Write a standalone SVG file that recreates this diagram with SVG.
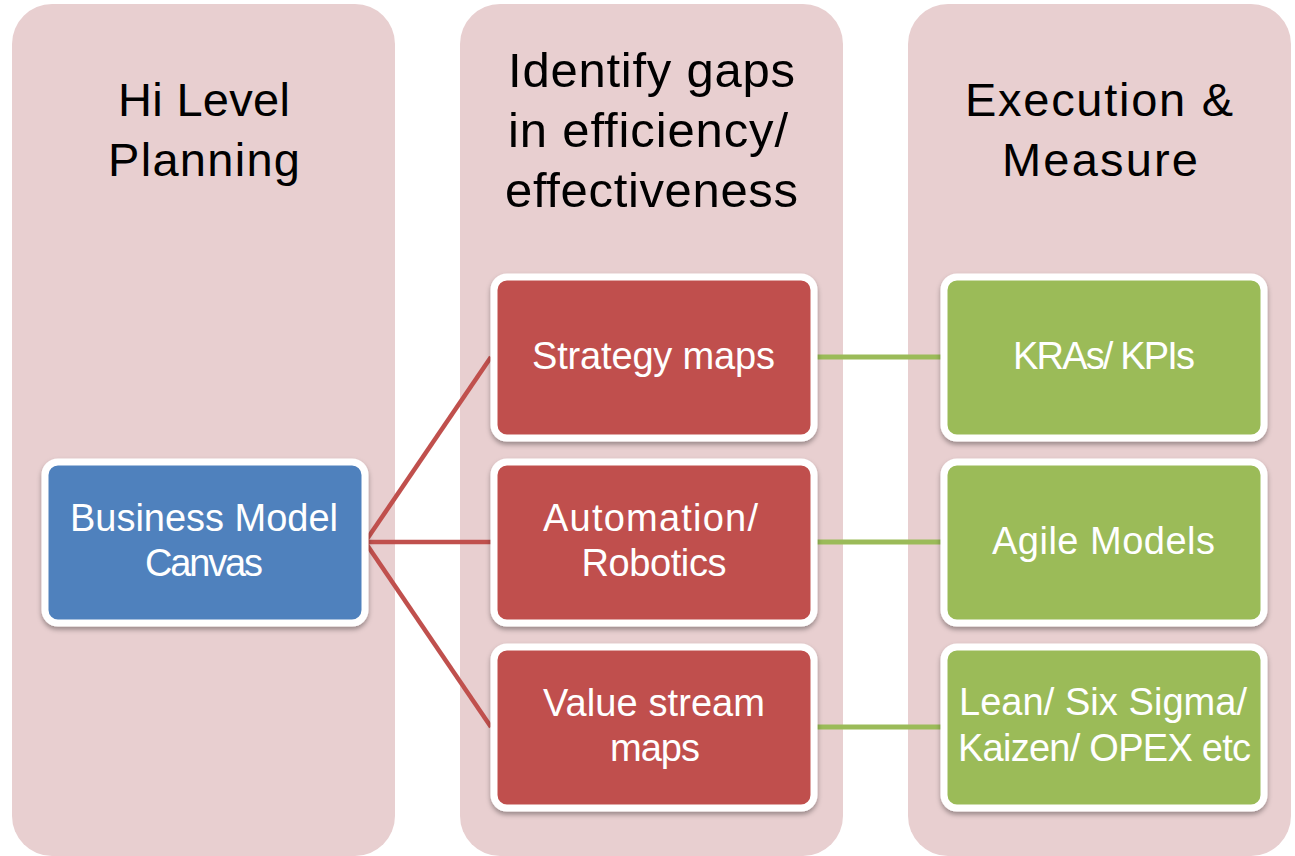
<svg xmlns="http://www.w3.org/2000/svg" width="1295" height="856" viewBox="0 0 1295 856">
<style>
.col{fill:#e8cfd0}
.hdr{font-family:"Liberation Sans",Arial,sans-serif;font-size:47px;fill:#000;text-anchor:middle}
.hdr2{font-size:49px}
.lbl{font-family:"Liberation Sans",Arial,sans-serif;font-size:38px;fill:#fff;text-anchor:middle}
.node{stroke:#fff;stroke-width:7}
.blue{fill:#4f81bd}
.red{fill:#c0504d}
.green{fill:#9bbb59}
.cr{stroke:#c0504d;stroke-width:4.5;fill:none}
.cg{stroke:#9bbb59;stroke-width:5;fill:none}
</style>
<defs>
<filter id="sh" x="-10%" y="-10%" width="120%" height="130%">
<feDropShadow dx="0" dy="3" stdDeviation="2.5" flood-color="#000" flood-opacity="0.35"/>
</filter>
</defs>
<rect width="1295" height="856" fill="#fff"/>
<g id="col1">
<rect class="col" x="12" y="4" width="383" height="852" rx="40"/>
<text class="hdr" x="204" y="116" textLength="172">Hi Level</text>
<text class="hdr" x="204" y="176" textLength="192">Planning</text>
</g>
<g id="col2">
<rect class="col" x="460" y="4" width="383" height="852" rx="40"/>
<text class="hdr hdr2" x="651.5" y="87" textLength="287">Identify gaps</text>
<text class="hdr hdr2" x="648" y="147" textLength="280">in efficiency/</text>
<text class="hdr hdr2" x="651.5" y="207" textLength="293">effectiveness</text>
</g>
<g id="col3">
<rect class="col" x="908" y="4" width="383" height="852" rx="40"/>
<text class="hdr" x="1099" y="116" textLength="268">Execution &amp;</text>
<text class="hdr" x="1100" y="176" textLength="196">Measure</text>
</g>
<g id="connectors">
<line class="cr" x1="365" y1="542" x2="491" y2="357"/>
<line class="cr" x1="365" y1="542" x2="491" y2="542"/>
<line class="cr" x1="365" y1="542" x2="491" y2="727"/>
<line class="cg" x1="817" y1="357" x2="941" y2="357"/>
<line class="cg" x1="817" y1="542" x2="941" y2="542"/>
<line class="cg" x1="817" y1="727" x2="941" y2="727"/>
</g>
<g id="bmc">
<rect class="node blue" filter="url(#sh)" x="45" y="462" width="320" height="161" rx="13"/>
<text class="lbl" x="204" y="531" textLength="268">Business Model</text>
<text class="lbl" x="204" y="576" textLength="118">Canvas</text>
</g>
<g id="strategy">
<rect class="node red" filter="url(#sh)" x="494" y="277" width="320" height="161" rx="13"/>
<text class="lbl" x="653.5" y="369" textLength="243">Strategy maps</text>
</g>
<g id="automation">
<rect class="node red" filter="url(#sh)" x="494" y="462" width="320" height="161" rx="13"/>
<text class="lbl" x="650.5" y="531" textLength="215">Automation/</text>
<text class="lbl" x="654" y="576" textLength="145">Robotics</text>
</g>
<g id="valuestream">
<rect class="node red" filter="url(#sh)" x="494" y="647" width="320" height="161" rx="13"/>
<text class="lbl" x="654" y="716" textLength="222">Value stream</text>
<text class="lbl" x="655" y="761" textLength="90">maps</text>
</g>
<g id="kras">
<rect class="node green" filter="url(#sh)" x="944" y="277" width="320" height="161" rx="13"/>
<text class="lbl" x="1104" y="369" textLength="182">KRAs/ KPIs</text>
</g>
<g id="agile">
<rect class="node green" filter="url(#sh)" x="944" y="462" width="320" height="161" rx="13"/>
<text class="lbl" x="1103.5" y="554" textLength="223">Agile Models</text>
</g>
<g id="lean">
<rect class="node green" filter="url(#sh)" x="944" y="647" width="320" height="161" rx="13"/>
<text class="lbl" x="1103" y="715" textLength="288">Lean/ Six Sigma/</text>
<text class="lbl" x="1104.5" y="761" textLength="293">Kaizen/ OPEX etc</text>
</g>
</svg>
